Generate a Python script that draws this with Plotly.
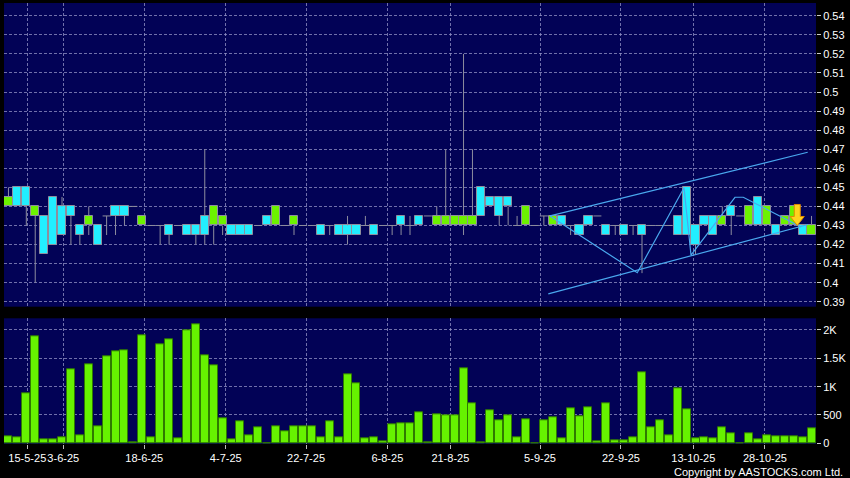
import plotly.graph_objects as go

# ---------------- data ----------------
opens = [0.44, 0.45, 0.45, 0.435, 0.435, 0.445, 0.44, 0.44, 0.43, 0.43,
         0.43, 0.435, 0.44, 0.44, 0.44, 0.43, 0.43, 0.43, 0.43, 0.43,
         0.43, 0.43, 0.435, 0.43, 0.43, 0.43, 0.43, 0.43, 0.43, 0.435,
         0.43, 0.43, 0.43, 0.43, 0.43, 0.43, 0.43, 0.43, 0.43, 0.43,
         0.43, 0.43, 0.43, 0.43, 0.435, 0.43, 0.435, 0.435, 0.43, 0.43,
         0.43, 0.43, 0.43, 0.45, 0.445, 0.445, 0.445, 0.43, 0.43, 0.43,
         0.435, 0.43, 0.435, 0.43, 0.43, 0.435, 0.435, 0.43, 0.43, 0.43,
         0.43, 0.43, 0.43, 0.43, 0.43, 0.435, 0.45, 0.43, 0.435, 0.435,
         0.43, 0.44, 0.435, 0.43, 0.445, 0.43, 0.43, 0.43, 0.43, 0.43,
         0.425]
highs = [0.45, 0.45, 0.45, 0.44, 0.435, 0.445, 0.445, 0.44, 0.43, 0.44,
         0.43, 0.435, 0.44, 0.44, 0.44, 0.435, 0.43, 0.43, 0.43, 0.43,
         0.43, 0.43, 0.47, 0.44, 0.435, 0.43, 0.43, 0.43, 0.43, 0.435,
         0.44, 0.43, 0.435, 0.43, 0.43, 0.43, 0.43, 0.43, 0.435, 0.43,
         0.435, 0.43, 0.43, 0.43, 0.435, 0.435, 0.435, 0.435, 0.44, 0.47,
         0.435, 0.52, 0.47, 0.45, 0.445, 0.445, 0.445, 0.435, 0.44, 0.43,
         0.435, 0.435, 0.435, 0.43, 0.43, 0.435, 0.435, 0.43, 0.43, 0.43,
         0.43, 0.43, 0.43, 0.43, 0.43, 0.435, 0.45, 0.43, 0.435, 0.435,
         0.44, 0.44, 0.435, 0.44, 0.445, 0.44, 0.43, 0.435, 0.44, 0.43,
         0.435]
lows = [0.44, 0.44, 0.43, 0.40, 0.415, 0.42, 0.425, 0.42, 0.42, 0.425,
        0.42, 0.425, 0.425, 0.43, 0.44, 0.43, 0.43, 0.42, 0.42, 0.43,
        0.425, 0.42, 0.42, 0.42, 0.425, 0.425, 0.425, 0.425, 0.43, 0.43,
        0.43, 0.43, 0.425, 0.43, 0.43, 0.425, 0.425, 0.425, 0.42, 0.425,
        0.43, 0.425, 0.43, 0.425, 0.425, 0.425, 0.43, 0.435, 0.43, 0.43,
        0.43, 0.425, 0.43, 0.435, 0.44, 0.43, 0.43, 0.43, 0.43, 0.43,
        0.43, 0.43, 0.43, 0.425, 0.425, 0.43, 0.435, 0.425, 0.425, 0.425,
        0.425, 0.405, 0.43, 0.43, 0.43, 0.425, 0.425, 0.415, 0.43, 0.425,
        0.43, 0.425, 0.435, 0.43, 0.43, 0.43, 0.425, 0.43, 0.43, 0.425,
        0.425]
closes = [0.445, 0.44, 0.44, 0.44, 0.415, 0.42, 0.425, 0.435, 0.425, 0.435,
          0.42, 0.435, 0.435, 0.435, 0.44, 0.435, 0.43, 0.43, 0.425, 0.43,
          0.425, 0.425, 0.425, 0.44, 0.435, 0.425, 0.425, 0.425, 0.43, 0.43,
          0.44, 0.43, 0.435, 0.43, 0.43, 0.425, 0.43, 0.425, 0.425, 0.425,
          0.43, 0.425, 0.43, 0.43, 0.43, 0.43, 0.43, 0.435, 0.435, 0.435,
          0.435, 0.435, 0.435, 0.435, 0.44, 0.435, 0.44, 0.43, 0.44, 0.43,
          0.435, 0.435, 0.43, 0.43, 0.425, 0.43, 0.435, 0.425, 0.43, 0.425,
          0.43, 0.425, 0.43, 0.43, 0.43, 0.425, 0.425, 0.42, 0.43, 0.425,
          0.435, 0.435, 0.435, 0.44, 0.43, 0.44, 0.425, 0.435, 0.44, 0.425,
          0.43]
volume = [130, 107, 888, 1888, 77, 77, 112, 1308, 142, 1397,
          308, 1533, 1622, 1646, 12, 1906, 112, 1746, 1829, 95,
          1995, 2096, 1557, 1385, 438, 71, 397, 142, 284, 8,
          296, 219, 296, 296, 296, 112, 397, 100, 1220, 1054,
          83, 107, 41, 331, 349, 361, 545, 15, 515, 497,
          497, 1332, 704, 10, 574, 414, 497, 107, 426, 4,
          402, 462, 89, 622, 480, 633, 41, 699, 53, 47,
          107, 1249, 278, 402, 142, 971, 604, 89, 112, 89,
          278, 184, 5, 184, 77, 136, 124, 124, 130, 112,
          266]

date_labels = ["15-5-25", "3-6-25", "18-6-25", "4-7-25", "22-7-25", "6-8-25",
               "21-8-25", "5-9-25", "22-9-25", "13-10-25", "28-10-25"]
date_label_bar = [2.11, 6.14, 15.22, 24.35, 33.35, 42.46, 49.52, 59.57,
                  68.64, 76.75, 84.78]

price_ticks = [0.39, 0.40, 0.41, 0.42, 0.43, 0.44, 0.45, 0.46, 0.47, 0.48,
               0.49, 0.50, 0.51, 0.52, 0.53, 0.54]
price_tick_text = ["0.39", "0.4", "0.41", "0.42", "0.43", "0.44", "0.45", "0.46",
                   "0.47", "0.48", "0.49", "0.5", "0.51", "0.52", "0.53", "0.54"]
vol_ticks = [0, 500, 1000, 1500, 2000]
vol_tick_text = ["0", "500", "1K", "1.5K", "2K"]

# drawn trend lines (bar index, price)
channel_upper_x = [60.69, 89.57]
channel_upper_y = [0.4350, 0.4684]
channel_lower_x = [60.50, 89.60]
channel_lower_y = [0.3941, 0.4305]
zigzag_x = [60.69, 70.47, 75.71, 76.49, 81.42, 82.35, 88.82]
zigzag_y = [0.4350, 0.4052, 0.4498, 0.4145, 0.4448, 0.4448, 0.4292]
signal_x = 88.4
signal_y = 0.4300

# ---------------- styling ----------------
BG = "#000000"
PLOT_BG = "#020256"
GRID = "rgba(150,150,200,0.75)"
UP = "#6cf200"
DOWN = "#22eeff"
EDGE = "#8e8e9e"
TREND = "#4aa8ee"
FONT = "Liberation Sans, Arial, sans-serif"

n = len(opens)
idx = list(range(n))

# candle bodies
body_base, body_h, body_col = [], [], []
for o, c in zip(opens, closes):
    if o == c:
        body_base.append(None); body_h.append(None); body_col.append(UP)
    else:
        body_base.append(min(o, c)); body_h.append(abs(c - o))
        body_col.append(UP if c > o else DOWN)

# wicks and flat (doji / no-trade) dashes
wx, wy = [], []
for i, (o, h, l, c) in enumerate(zip(opens, highs, lows, closes)):
    top, bot = max(o, c), min(o, c)
    if h > top:
        wx += [i, i, None]; wy += [top, h, None]
    if l < bot:
        wx += [i, i, None]; wy += [bot, l, None]
    if o == c:
        wx += [i - 0.45, i + 0.45, None]; wy += [o, o, None]

fig = go.Figure()

fig.add_trace(go.Scatter(x=wx, y=wy, mode="lines", line=dict(color=EDGE, width=1),
                         xaxis="x", yaxis="y", hoverinfo="skip", showlegend=False))
fig.add_trace(go.Bar(x=idx, y=body_h, base=body_base, width=0.92,
                     marker=dict(color=body_col, line=dict(color=EDGE, width=1)),
                     xaxis="x", yaxis="y", showlegend=False))

for tx, ty in [(channel_upper_x, channel_upper_y), (channel_lower_x, channel_lower_y),
               (zigzag_x, zigzag_y)]:
    fig.add_trace(go.Scatter(x=tx, y=ty, mode="lines", line=dict(color=TREND, width=1.2),
                             xaxis="x", yaxis="y", hoverinfo="skip", showlegend=False))

fig.add_trace(go.Bar(x=idx, y=volume, width=0.9,
                     marker=dict(color="#66f200", line=dict(color="#2f7a00", width=1)),
                     xaxis="x2", yaxis="y2", showlegend=False))

# signal arrow (pixel geometry anchored on data point)
fig.add_shape(type="path", xref="x", yref="y", xsizemode="pixel", ysizemode="pixel",
              xanchor=signal_x, yanchor=signal_y,
              path="M 0,0 L -7,9 L -3,9 L -3,21 L 3,21 L 3,9 L 7,9 Z",
              fillcolor="#ffd21f", line=dict(color="#e08a00", width=1))

W, H = 850, 478
xdom = [4 / W, 816 / W]
common_x = dict(range=[-0.5, n - 0.5], domain=xdom, tickmode="array",
                tickvals=date_label_bar, ticktext=date_labels, showgrid=True,
                gridcolor=GRID, griddash="3px,2px", gridwidth=1, zeroline=False,
                showline=False, tickangle=0, automargin=False)

fig.update_layout(
    width=W, height=H, margin=dict(l=0, r=0, t=0, b=0),
    paper_bgcolor=BG, plot_bgcolor=PLOT_BG, barmode="overlay", bargap=0,
    font=dict(family=FONT, color="white", size=11),
    xaxis=dict(**common_x, anchor="y", showticklabels=False, ticks=""),
    xaxis2=dict(**common_x, anchor="y2", matches="x", showticklabels=True,
                ticks="outside", ticklen=4, tickcolor="#bbbbbb",
                tickfont=dict(family=FONT, color="white", size=11)),
    yaxis=dict(domain=[1 - 306.7 / H, 1 - 3 / H], range=[0.3874, 0.5467],
               side="right", anchor="x", tickmode="array", tickvals=price_ticks,
               ticktext=price_tick_text, showgrid=True, gridcolor=GRID,
               griddash="3px,2px", zeroline=False, ticks="outside", ticklen=4,
               tickcolor="#cccccc", automargin=False,
               tickfont=dict(family=FONT, color="white", size=11)),
    yaxis2=dict(domain=[1 - 444 / H, 1 - 318.3 / H], range=[-12, 2206],
                side="right", anchor="x2", tickmode="array", tickvals=vol_ticks,
                ticktext=vol_tick_text, showgrid=True, gridcolor=GRID,
                griddash="3px,2px", zeroline=False, ticks="outside", ticklen=4,
                tickcolor="#cccccc", automargin=False,
                tickfont=dict(family=FONT, color="white", size=11)),
    annotations=[dict(text="Copyright by AASTOCKS.com Ltd.", xref="paper", yref="paper",
                      x=845 / W, y=1 - 472 / H, xanchor="right", yanchor="middle",
                      showarrow=False, font=dict(family=FONT, color="white", size=11))],
)

fig.write_html("out.html", config={"displayModeBar": False},
               post_script="document.body.style.margin='0px';document.body.style.background='#000';")
